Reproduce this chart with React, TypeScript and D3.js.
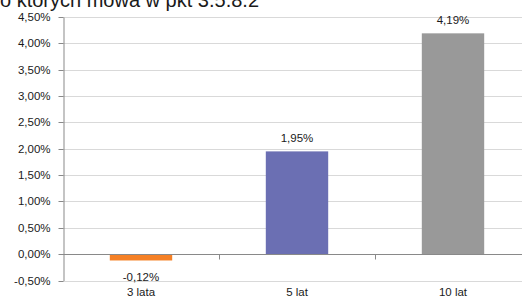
import React, { useEffect, useRef } from 'react';
import * as d3 from 'd3';

const categories = ['3 lata', '5 lat', '10 lat'];
const values = [-0.12, 1.95, 4.19];
const labels = ['-0,12%', '1,95%', '4,19%'];
const colors = ['#f58025', '#6b6fb3', '#999999'];
const ticks = [-0.5, 0, 0.5, 1, 1.5, 2, 2.5, 3, 3.5, 4, 4.5];
const title = 'o których mowa w pkt 3.5.8.2';

const App = () => {
  const ref = useRef<SVGSVGElement | null>(null);

  useEffect(() => {
    if (!ref.current) return;
    const width = 522;
    const height = 298;
    const marginLeft = 63;
    const plotRight = 531;
    const top = 17;
    const bottom = 280.5;
    const font = "'Liberation Sans', Arial, sans-serif";
    const fontSize = '11.5px';

    const svg = d3.select(ref.current);
    svg.selectAll('*').remove();
    svg.attr('width', width).attr('height', height);

    const x = d3.scaleBand()
      .domain(categories)
      .range([marginLeft, plotRight])
      .paddingInner(0.6)
      .paddingOuter(0.3);
    const band = d3.scaleBand().domain(categories).range([marginLeft, plotRight]);

    const y = d3.scaleLinear().domain([-0.5, 4.5]).range([bottom, top]);
    const fmt = (v: number) => v.toFixed(2).replace('.', ',') + '%';

    svg.append('rect').attr('width', width).attr('height', height).attr('fill', '#fff');

    // gridlines
    svg.append('g')
      .selectAll('line')
      .data(ticks)
      .join('line')
      .attr('x1', marginLeft)
      .attr('x2', plotRight)
      .attr('y1', d => Math.round(y(d)) + 0.5)
      .attr('y2', d => Math.round(y(d)) + 0.5)
      .attr('stroke', '#d9d9d9')
      .attr('stroke-width', 1);

    // y axis
    const yAxis = svg.append('g')
      .attr('transform', `translate(${marginLeft + 0.5},0)`)
      .call(d3.axisLeft(y).tickValues(ticks).tickSize(5).tickSizeOuter(0).tickFormat(d => fmt(d as number)));
    yAxis.selectAll('path,line').attr('stroke', '#898989');
    yAxis.selectAll('text')
      .attr('fill', '#1a1a1a')
      .attr('x', -13)
      .style('font-family', font)
      .style('font-size', fontSize);
    yAxis.selectAll('.tick').attr('transform', d => `translate(0,${Math.round(y(d as number)) + 0.5})`);

    // bars
    svg.append('g')
      .selectAll('rect')
      .data(values)
      .join('rect')
      .attr('x', (_d, i) => x(categories[i])!)
      .attr('width', x.bandwidth())
      .attr('y', d => y(Math.max(0, d)))
      .attr('height', d => Math.abs(y(d) - y(0)))
      .attr('fill', (_d, i) => colors[i]);

    // category axis at zero
    const y0 = Math.round(y(0)) + 0.5;
    svg.append('line')
      .attr('x1', marginLeft).attr('x2', plotRight)
      .attr('y1', y0).attr('y2', y0)
      .attr('stroke', '#898989');
    svg.append('g')
      .selectAll('line')
      .data(categories.slice(1))
      .join('line')
      .attr('x1', d => Math.round(band(d)!) + 0.5)
      .attr('x2', d => Math.round(band(d)!) + 0.5)
      .attr('y1', y0)
      .attr('y2', y0 + 5)
      .attr('stroke', '#898989');

    // category labels
    svg.append('g')
      .selectAll('text')
      .data(categories)
      .join('text')
      .attr('x', d => x(d)! + x.bandwidth() / 2)
      .attr('y', 296)
      .attr('text-anchor', 'middle')
      .style('font-family', font)
      .style('font-size', fontSize)
      .attr('fill', '#1a1a1a')
      .text(d => d);

    // data labels
    svg.append('g')
      .selectAll('text')
      .data(values)
      .join('text')
      .attr('x', (_d, i) => x(categories[i])! + x.bandwidth() / 2)
      .attr('y', d => d < 0 ? y(d) + 21 : y(d) - 9)
      .attr('text-anchor', 'middle')
      .style('font-family', font)
      .style('font-size', fontSize)
      .attr('fill', '#1a1a1a')
      .text((_d, i) => labels[i]);

    // title, cut off at the top edge as in the source
    svg.append('text')
      .attr('x', 0)
      .attr('y', 7)
      .style('font-family', font)
      .style('font-size', '20px')
      .attr('fill', '#1a1a1a')
      .text(title);
  }, []);

  return <svg ref={ref} style={{ position: 'absolute', left: 0, top: 0, display: 'block' }} />;
};

export default App;
